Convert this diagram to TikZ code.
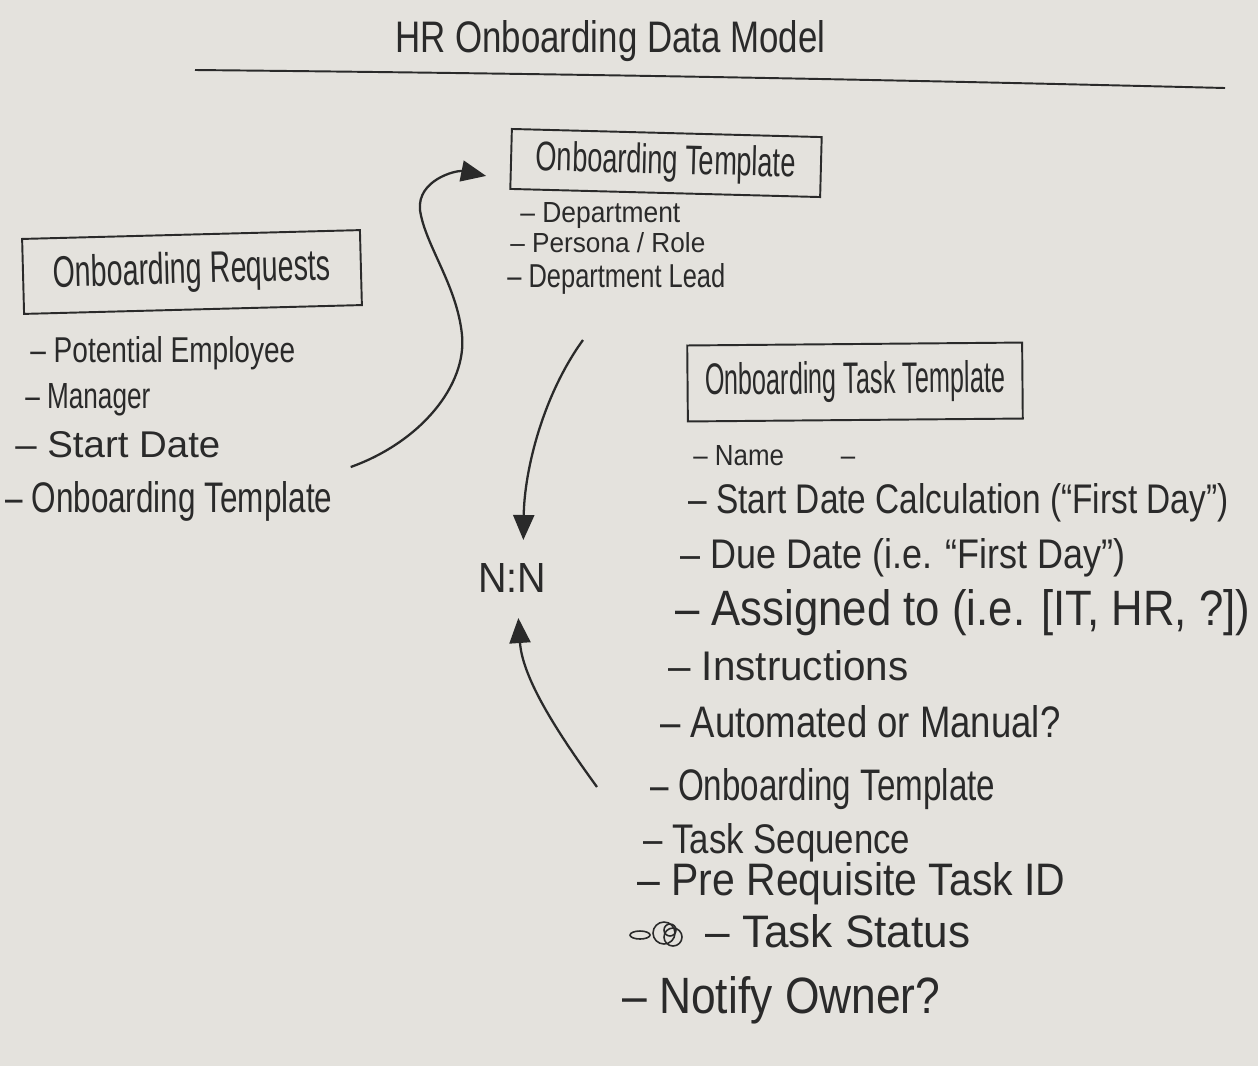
\documentclass[tikz,border=0pt]{standalone}
\usepackage{fontspec}
\setmainfont{Liberation Sans}
\usetikzlibrary{arrows.meta,calc}
\definecolor{ink}{HTML}{2A2A2A}
\definecolor{paper}{HTML}{E4E2DD}
\newlength\mypx
\setlength\mypx{0.02cm}
% width and cap-height in reference pixels
\newcommand\hw[3]{\resizebox{#1\mypx}{#2\mypx}{#3}}
\begin{document}
\begin{tikzpicture}[x=0.02cm,y=-0.02cm,
  txt/.style={text=ink, inner sep=0pt, anchor=base west},
  box/.style={draw=ink, line width=1.1pt, inner sep=0pt, text=ink},
  conn/.style={draw=ink, line width=1.3pt, -{Triangle[length=0.5cm,width=0.42cm]}},
  inkline/.style={draw=ink, line width=1.1pt}]
\fill[paper] (0,0) rectangle (1258,1066);
\useasboundingbox (0,0) rectangle (1258,1066);

% title
\node[txt] (title) at (395,52) {\hw{430}{32}{HR Onboarding Data Model}};
\draw[inkline] (195,70) .. controls (600,74) and (900,80) .. (1225,88);

% boxes
\node[box, minimum width=6.76cm, minimum height=1.5cm, rotate=1.5] (req) at (192,272) {\hw{277}{32}{Onboarding Requests}};
\node[box, minimum width=6.2cm, minimum height=1.2cm, rotate=-1.5] (tpl) at (666,163) {\hw{260}{30}{Onboarding Template}};
\node[box, minimum width=6.7cm, minimum height=1.52cm, rotate=0.5] (task) at (855,382) {\hw{300}{32}{Onboarding Task Template}};

% request fields
\node[txt] (r1) at (30,362) {\hw{265}{26}{– Potential Employee}};
\node[txt] (r2) at (25,408) {\hw{125}{25}{– Manager}};
\node[txt] (r3) at (15,457) {\hw{205}{26}{– Start Date}};
\node[txt] (r4) at (5,512) {\hw{327}{31}{– Onboarding Template}};

% template fields
\node[txt] (t1) at (520,222) {\hw{160}{20}{– Department}};
\node[txt] (t2) at (510,252) {\hw{195}{20}{– Persona / Role}};
\node[txt] (t3) at (507,287) {\hw{218}{24}{– Department Lead}};

% task template fields
\node[txt] (k1) at (693,465) {\hw{162}{20}{– Name\hspace{2.2em}–}};
\node[txt] (k2) at (688,513) {\hw{540}{30}{– Start Date Calculation (“First Day”)}};
\node[txt] (k3) at (680,568) {\hw{445}{30}{– Due Date (i.e. “First Day”)}};
\node[txt] (k4) at (675,625) {\hw{575}{36}{– Assigned to (i.e. [IT, HR, ?])}};
\node[txt] (k5) at (668,680) {\hw{240}{30}{– Instructions}};
\node[txt] (k6) at (660,737) {\hw{400}{32}{– Automated or Manual?}};
\node[txt] (k7) at (650,800) {\hw{345}{32}{– Onboarding Template}};
\node[txt] (k8) at (643,853) {\hw{267}{30}{– Task Sequence}};
\node[txt] (k9) at (637,895) {\hw{428}{33}{– Pre Requisite Task ID}};
\node[txt] (k10) at (705,947) {\hw{265}{33}{– Task Status}};
\node[txt] (k11) at (622,1013) {\hw{318}{37}{– Notify Owner?}};

% scribble
\draw[ink, line width=0.9pt] (640,935) ellipse [x radius=10, y radius=4];
\draw[ink, line width=0.9pt] (664,933) circle [radius=11];
\draw[ink, line width=0.9pt] (673,937) circle [radius=9];
\draw[ink, line width=0.9pt] (670,930) circle [radius=6];

% N:N
\node[txt] (nn) at (478,592) {\hw{68}{29}{N:N}};

% connectors
\draw[conn] ($(r4.base east)+(18,-45)$) .. controls +(70,-25) and +(5,50) .. (462,335)
  .. controls +(-5,-50) and +(5,35) .. (420,210)
  .. controls +(-3,-30) and +(-30,-6) .. ($(tpl.west)+(-24,17)$);
\draw[conn] ($(t3.base west)+(76,53)$) .. controls +(-40,55) and +(1,-70) .. ($(nn.base)+(11,-52)$);
\draw[conn] ($(k7.base west)+(-53,-13)$) .. controls +(-40,-55) and +(4,60) .. ($(nn.base)+(6,26)$);
\end{tikzpicture}
\end{document}
